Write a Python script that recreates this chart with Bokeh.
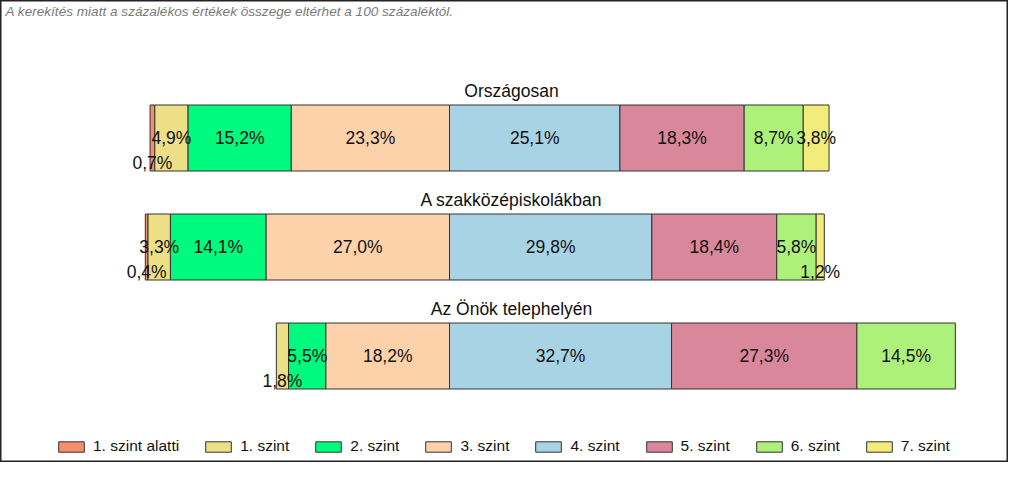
import numpy as np
from bokeh.plotting import figure
from bokeh.models import Range1d, ColumnDataSource, Legend, LegendItem, Label
from bokeh.core.properties import value
from bokeh.embed import file_html
from bokeh.resources import INLINE

# ---- data ----
groups = ["Országosan", "A szakközépiskolákban", "Az Önök telephelyén"]
levels = ["1. szint alatti", "1. szint", "2. szint", "3. szint",
          "4. szint", "5. szint", "6. szint", "7. szint"]
colors = ["#F78E6B", "#EDDF86", "#00FA7D", "#FDD2AB",
          "#A8D3E4", "#D9879A", "#ADF07A", "#F2EC7A"]
orszagosan = [0.7, 4.9, 15.2, 23.3, 25.1, 18.3, 8.7, 3.8]
szakkozep = [0.4, 3.3, 14.1, 27.0, 29.8, 18.4, 5.8, 1.2]
telephely = [0.0, 1.8, 5.5, 18.2, 32.7, 27.3, 14.5, 0.0]
note = "A kerekítés miatt a  százalékos értékek összege eltérhet a 100 százaléktól."

# ---- layout constants ----
W, H = 1008, 462
PX = 6.79          # pixels per percent
CX = 449           # canvas x of the 3./4. szint boundary
UNIT = 109         # pixels between bars
Y0 = 137.5         # canvas y of first bar centre
FONT = "Liberation Sans"

vals = np.array([orszagosan, szakkozep, telephely])
ypos = np.arange(len(groups), dtype=float)

p = figure(width=W, height=H, output_backend="svg", toolbar_location=None,
           x_range=Range1d(-CX / PX, (W - CX) / PX),
           y_range=Range1d((H - Y0) / UNIT, -Y0 / UNIT),
           min_border=0, min_border_left=0, min_border_right=0,
           min_border_top=0, min_border_bottom=0)
p.axis.visible = False
p.grid.visible = False
p.background_fill_color = "white"
p.border_fill_color = "white"
p.outline_line_color = "#222222"
p.outline_line_width = 2

items = []
lab_x, lab_y, lab_t = [], [], []
for i, (lev, col) in enumerate(zip(levels, colors)):
    if i < 4:
        right = -vals[:, i + 1:4].sum(axis=1)
        left = -vals[:, i:4].sum(axis=1)
    else:
        left = vals[:, 4:i].sum(axis=1)
        right = vals[:, 4:i + 1].sum(axis=1)
    v = vals[:, i]
    m = v > 0
    src = ColumnDataSource(dict(y=ypos[m], left=left[m], right=right[m]))
    r = p.hbar(y="y", left="left", right="right", height=66 / UNIT, source=src,
               fill_color=col, line_color="#333333", line_width=1)
    items.append(LegendItem(label=lev, renderers=[r]))
    for k in np.where(m)[0]:
        lab_x.append((left[k] + right[k]) / 2)
        lab_y.append(ypos[k] + (25 / UNIT if v[k] < 2.5 else 0))
        lab_t.append(f"{v[k]:.1f}".replace(".", ",") + "%")

p.text(x=lab_x, y=lab_y, text=lab_t, text_align="center", text_baseline="middle",
       text_font=value(FONT), text_font_size="17.5px", text_color="#111111")

mid_x = (511 - CX) / PX
p.text(x=[mid_x] * len(groups), y=list(ypos - 47.5 / UNIT), text=groups,
       text_align="center", text_baseline="middle",
       text_font=value(FONT), text_font_size="17.5px", text_color="#111111")

p.add_layout(Label(x=5, y=H - 3, x_units="screen", y_units="screen", text=note,
                   text_align="left", text_baseline="top", text_font=FONT,
                   text_font_style="italic", text_font_size="13.6px",
                   text_color="#7a7a7a"))

legend = Legend(items=items, orientation="horizontal", location=(55, 7),
                glyph_width=32, glyph_height=13, label_standoff=6, spacing=23,
                padding=0, margin=0, border_line_alpha=0, background_fill_alpha=0,
                label_text_font=FONT, label_text_font_size="15.5px",
                label_text_color="#111111")
p.add_layout(legend)

open("out.html", "w").write(file_html(p, INLINE))
